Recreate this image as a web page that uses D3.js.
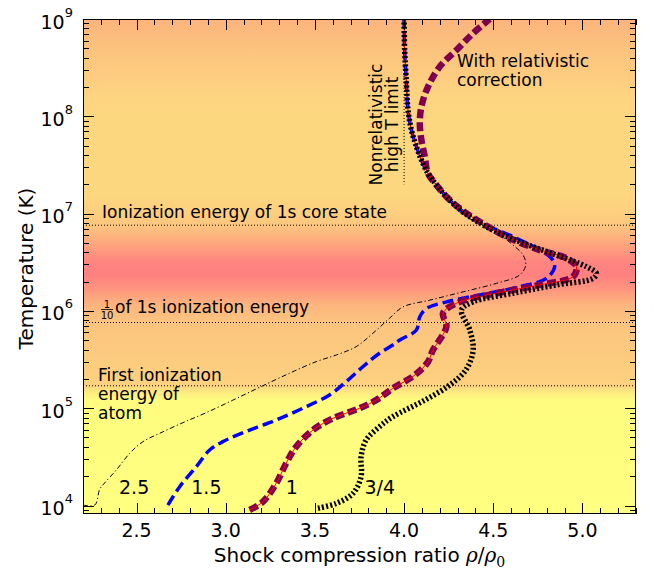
<!DOCTYPE html>
<html><head><meta charset="utf-8">
<script src="https://cdn.jsdelivr.net/npm/d3@7/dist/d3.min.js"></script>
<style>
body{margin:0;background:#fff}
svg{display:block}
text{font-family:"DejaVu Sans",sans-serif;fill:#000}
</style>
</head><body>
<svg id="chart" width="654" height="574"></svg>
<script>
// ---------- data ----------
const xDomain = [2.2, 5.3];
const yDomain = [8180, 1e9];
const xMajorTicks = [2.5, 3.0, 3.5, 4.0, 4.5, 5.0];
const xTickLabels = ["2.5", "3.0", "3.5", "4.0", "4.5", "5.0"];
const yMajorTicks = [1e4, 1e5, 1e6, 1e7, 1e8, 1e9];
const yTickExponents = ["4", "5", "6", "7", "8", "9"];

// shared non-relativistic high-temperature branch
const highT_x = [4.238, 4.181, 4.134, 4.097, 4.069, 4.041, 4.022, 4.013, 4.003, 4.000];
const highT_T = [1.49e7, 1.97e7, 2.59e7, 3.56e7, 4.87e7, 7.23e7, 1.16e8, 2.20e8, 4.8e8, 1e9];

// n = 2.5 (thin dash-dot)
const c25_x = [2.200, 2.266, 2.294, 2.322, 2.387, 2.462, 2.536, 2.630, 2.760, 2.891, 3.040, 3.190, 3.358, 3.507, 3.619, 3.731, 3.825, 3.918, 3.994, 4.144, 4.331, 4.518, 4.648, 4.682, 4.667, 4.611, 4.536, 4.424, 4.331];
const c25_T = [1.01e4, 1.01e4, 1.47e4, 1.71e4, 2.32e4, 3.44e4, 4.53e4, 5.52e4, 7.10e4, 9.0e4, 1.21e5, 1.64e5, 2.29e5, 3.01e5, 3.52e5, 4.29e5, 5.89e5, 8.39e5, 1.10e6, 1.29e6, 1.57e6, 1.92e6, 2.34e6, 2.96e6, 3.75e6, 4.75e6, 6.03e6, 7.95e6, 9.68e6];

// n = 1.5 (blue dashed)
const c15_x = [2.676, 2.742, 2.835, 2.910, 2.984, 3.134, 3.283, 3.432, 3.582, 3.675, 3.769, 3.862, 3.937, 3.976, 4.069, 4.088, 4.126, 4.238, 4.424, 4.648, 4.798, 4.844, 4.826, 4.742, 4.611, 4.480, 4.387, 4.294];
const c15_T = [1.01e4, 1.56e4, 2.50e4, 3.72e4, 4.53e4, 5.97e4, 7.56e4, 9.98e4, 1.37e5, 1.87e5, 2.67e5, 3.67e5, 4.46e5, 5.02e5, 6.37e5, 8.71e5, 1.06e6, 1.24e6, 1.46e6, 1.77e6, 2.16e6, 2.85e6, 3.47e6, 4.40e6, 5.79e6, 7.33e6, 8.95e6, 1.18e7];

// n = 1 (low-T part, shared by relativistic and non-relativistic versions)
const c1_x = [3.134, 3.208, 3.283, 3.339, 3.395, 3.489, 3.601, 3.750, 3.843, 3.937, 4.060, 4.133, 4.162, 4.237, 4.218, 4.294, 4.518, 4.760, 4.947, 4.966, 4.910, 4.760, 4.574, 4.424, 4.312];
const c1_T = [9.0e3, 1.09e4, 1.69e4, 2.72e4, 4.02e4, 5.97e4, 7.87e4, 9.98e4, 1.21e5, 1.60e5, 2.19e5, 2.98e5, 3.96e5, 6.88e5, 9.45e5, 1.20e6, 1.52e6, 1.85e6, 2.25e6, 2.85e6, 3.47e6, 4.22e6, 5.79e6, 8.26e6, 1.13e7];
// n = 1 with relativistic correction (high-T part)
const c1rel_x = [4.238, 4.181, 4.134, 4.116, 4.097, 4.088, 4.097, 4.134, 4.200, 4.294, 4.387, 4.480];
const c1rel_T = [1.49e7, 1.97e7, 2.59e7, 3.85e7, 5.71e7, 8.47e7, 1.26e8, 2.01e8, 3.24e8, 4.80e8, 7.13e8, 1.0e9];

// n = 3/4 (black dotted)
const c34_x = [3.517, 3.619, 3.713, 3.759, 3.759, 3.787, 3.862, 3.937, 4.116, 4.256, 4.346, 4.387, 4.368, 4.322, 4.387, 4.611, 4.854, 5.059, 5.078, 5.022, 4.854, 4.648, 4.462, 4.331];
const c34_T = [9.36e3, 1.05e4, 1.33e4, 1.98e4, 3.18e4, 4.71e4, 6.45e4, 8.18e4, 1.21e5, 1.73e5, 2.47e5, 3.96e5, 6.37e5, 1.02e6, 1.24e6, 1.52e6, 1.85e6, 2.16e6, 2.43e6, 2.85e6, 3.75e6, 5.14e6, 7.33e6, 1.04e7];

// reference levels
const levelT = [7.6e6, 7.6e5, 1.7e5];
const nonrelLimitX = 4.0;
const nonrelLimitTmin = 2.0e7;

// curve labels
const curveLabels = ["2.5", "1.5", "1", "3/4"];
const curveLabelX = [2.402, 2.807, 3.336, 3.778];
const curveLabelT = [1.31e4, 1.31e4, 1.31e4, 1.31e4];

// background colour bands (temperature, colour)
const bgT = [1e9, 4.8e8, 1.47e8, 1.75e7, 1.04e7, 7.6e6, 4.76e6, 3.18e6, 2.34e6, 1.64e6, 1.15e6, 7.7e5, 3e5, 1.7e5, 1.47e5, 1.21e5, 8.18e3];
const bgColor = ["#FBB47C", "#FCC37E", "#FDD580", "#FDD880", "#FDD07F", "#FDC67F", "#FEA47E", "#FF8580", "#FF8080", "#FE977E", "#FDB57E", "#FCC47F", "#FCCC7F", "#FDD27F", "#FEEA80", "#FFFC80", "#FFFF80"];

// ---------- layout ----------
const L = 83, R = 636, T = 19, B = 514;
const svg = d3.select("#chart");
const x = d3.scaleLinear().domain(xDomain).range([L, R]);
const y = d3.scaleLog().domain(yDomain).range([B, T]);

const zip = (xs, ts) => xs.map((v, i) => [v, ts[i]]);
const line = d3.line().x(d => x(d[0])).y(d => y(d[1])).curve(d3.curveCatmullRom.alpha(0.5));

// background gradient
const defs = svg.append("defs");
const grad = defs.append("linearGradient").attr("id", "bg")
  .attr("gradientUnits", "userSpaceOnUse").attr("x1", 0).attr("x2", 0).attr("y1", T).attr("y2", B);
bgT.forEach((t, i) => grad.append("stop").attr("offset", (y(t) - T) / (B - T)).attr("stop-color", bgColor[i]));
defs.append("clipPath").attr("id", "clip").append("rect").attr("x", L).attr("y", T).attr("width", R - L).attr("height", B - T);

svg.append("rect").attr("x", L).attr("y", T).attr("width", R - L).attr("height", B - T).attr("fill", "url(#bg)");

const plot = svg.append("g").attr("clip-path", "url(#clip)");

// reference dotted lines
plot.selectAll(".lvl").data(levelT).enter().append("line")
  .attr("x1", L).attr("x2", R).attr("y1", d => y(d)).attr("y2", d => y(d))
  .attr("stroke", "#000").attr("stroke-width", 1).attr("stroke-dasharray", "1,2");
plot.append("line").attr("x1", x(nonrelLimitX)).attr("x2", x(nonrelLimitX))
  .attr("y1", y(yDomain[1])).attr("y2", y(nonrelLimitTmin))
  .attr("stroke", "#000").attr("stroke-width", 1).attr("stroke-dasharray", "1,2");

// curves
const high = zip(highT_x, highT_T);
const d25 = zip(c25_x, c25_T).concat(high);
const d15 = zip(c15_x, c15_T).concat(high);
const d1rel = zip(c1_x, c1_T).concat(zip(c1rel_x, c1rel_T));
const d1 = zip(c1_x, c1_T).concat(high);
const d34 = zip(c34_x, c34_T).concat(high);

plot.append("path").attr("d", line(d25)).attr("fill", "none").attr("stroke", "#000").attr("stroke-width", 1).attr("stroke-dasharray", "5,2.5,1.2,2.5");
plot.append("path").attr("d", line(d15)).attr("fill", "none").attr("stroke", "#0000FF").attr("stroke-width", 3.5).attr("stroke-dasharray", "11,5");
plot.append("path").attr("d", line(d1rel)).attr("fill", "none").attr("stroke", "#800050").attr("stroke-width", 6.5).attr("stroke-dasharray", "9,4");
plot.append("path").attr("d", line(d1)).attr("fill", "none").attr("stroke", "#FF0000").attr("stroke-width", 1);
plot.append("path").attr("d", line(d34)).attr("fill", "none").attr("stroke", "#000").attr("stroke-width", 5.5).attr("stroke-dasharray", "2,2.2");

// ticks (inward, all four sides)
const axesG = svg.append("g").attr("stroke", "#000").attr("stroke-width", 1);
const xMinor = d3.range(22, 54).map(v => v / 10).filter(v => !xMajorTicks.some(m => Math.abs(m - v) < 1e-6));
function xt(v, len) {
  const px = Math.round(x(v)) + 0.5;
  axesG.append("line").attr("x1", px).attr("x2", px).attr("y1", B).attr("y2", B - len);
  axesG.append("line").attr("x1", px).attr("x2", px).attr("y1", T).attr("y2", T + len);
}
xMajorTicks.forEach(v => xt(v, 11));
xMinor.forEach(v => xt(v, 6));
const yMinor = [];
for (let e = 3; e < 9; e++) for (let k = 2; k <= 9; k++) { const v = k * Math.pow(10, e); if (v >= yDomain[0] && v <= yDomain[1]) yMinor.push(v); }
function yt(v, len) {
  const py = Math.round(y(v)) + 0.5;
  axesG.append("line").attr("x1", L).attr("x2", L + len).attr("y1", py).attr("y2", py);
  axesG.append("line").attr("x1", R).attr("x2", R - len).attr("y1", py).attr("y2", py);
}
yMajorTicks.forEach(v => yt(v, 11));
yMinor.forEach(v => yt(v, 6));

// frame
svg.append("rect").attr("x", L + 0.5).attr("y", T + 0.5).attr("width", R - L - 1).attr("height", B - T - 1)
  .attr("fill", "none").attr("stroke", "#000").attr("stroke-width", 1);

// tick labels
svg.selectAll(".xl").data(xMajorTicks).enter().append("text")
  .attr("x", d => x(d)).attr("y", B + 23).attr("text-anchor", "middle").attr("font-size", 19)
  .text((d, i) => xTickLabels[i]);
yMajorTicks.forEach((v, i) => {
  const t = svg.append("text").attr("x", 73).attr("y", y(v) + 9.5).attr("text-anchor", "end").attr("font-size", 19);
  t.append("tspan").text("10");
  t.append("tspan").attr("font-size", 13).attr("dy", -12).text(yTickExponents[i]);
});

// axis labels
const xl = svg.append("text").attr("x", (L + R) / 2).attr("y", 562).attr("text-anchor", "middle").attr("font-size", 20);
xl.append("tspan").text("Shock compression ratio ");
xl.append("tspan").attr("font-family", "DejaVu Serif").attr("font-style", "italic").text("ρ");
xl.append("tspan").attr("font-family", "DejaVu Serif").text("/");
xl.append("tspan").attr("font-family", "DejaVu Serif").attr("font-style", "italic").text("ρ");
xl.append("tspan").attr("font-family", "DejaVu Serif").attr("font-size", 14).attr("dy", 5).text("0");
svg.append("text").attr("transform", `translate(33,${(T + B) / 2 + 2}) rotate(-90)`)
  .attr("text-anchor", "middle").attr("font-size", 20).text("Temperature (K)");

// curve labels
svg.selectAll(".cl").data(curveLabels).enter().append("text")
  .attr("x", (d, i) => x(curveLabelX[i])).attr("y", (d, i) => y(curveLabelT[i]))
  .attr("font-size", 19).text(d => d);

// annotations
const ann = svg.append("g").attr("font-size", 17);
ann.append("text").attr("x", 102).attr("y", y(levelT[0]) - 7).text("Ionization energy of 1s core state");
// 1/10 fraction
const fx = 107, fy = y(levelT[1]) - 13;
ann.append("text").attr("x", fx).attr("y", fy - 2).attr("text-anchor", "middle").attr("font-family", "DejaVu Serif").attr("font-size", 10).text("1");
ann.append("line").attr("x1", fx - 6).attr("x2", fx + 6).attr("y1", fy).attr("y2", fy).attr("stroke", "#000").attr("stroke-width", 0.8);
ann.append("text").attr("x", fx).attr("y", fy + 9).attr("text-anchor", "middle").attr("font-family", "DejaVu Serif").attr("font-size", 10).text("10");
ann.append("text").attr("x", 115).attr("y", y(levelT[1]) - 10).text("of 1s ionization energy");
const fi = ann.append("text").attr("x", 98).attr("y", y(levelT[2]) - 5);
["First ionization", "energy of", "atom"].forEach((s, i) => fi.append("tspan").attr("x", 98).attr("dy", i ? 19.3 : 0).text(s));
const wr = ann.append("text").attr("x", 457).attr("y", 66.5);
["With relativistic", "correction"].forEach((s, i) => wr.append("tspan").attr("x", 457).attr("dy", i ? 19.5 : 0).text(s));
const nr = ann.append("text").attr("transform", "translate(381.5,124.5) rotate(-90)").attr("text-anchor", "middle");
nr.append("tspan").attr("x", 0).attr("y", 0).text("Nonrelativistic");
nr.append("tspan").attr("x", 0).attr("y", 16).text("high T limit");
</script>
</body></html>
